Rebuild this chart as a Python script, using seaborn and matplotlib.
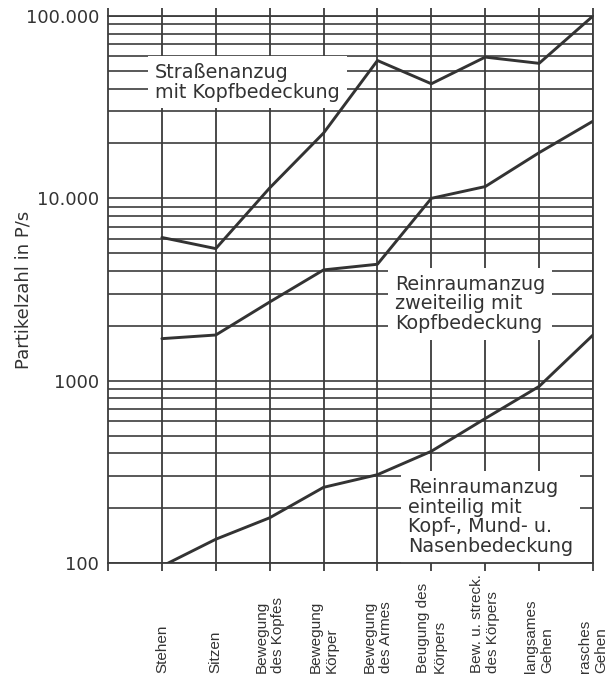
import numpy as np
import pandas as pd
import seaborn as sns
import matplotlib.pyplot as plt
from matplotlib.ticker import LogLocator, NullFormatter

# Daten
categories = ['Stehen', 'Sitzen', 'Bewegung\ndes Kopfes', 'Bewegung\nKörper',
              'Bewegung\ndes Armes', 'Beugung des\nKörpers', 'Bew. u. streck.\ndes Körpers',
              'langsames\nGehen', 'rasches\nGehen']
strassenanzug = [6100, 5300, 11400, 22800, 57000, 42500, 59500, 55000, 100000]
reinraum_zweiteilig = [1700, 1780, 2700, 4050, 4350, 10000, 11600, 17800, 26500]
reinraum_einteilig = [96, 135, 177, 260, 305, 410, 620, 930, 1780]
series_names = ['Straßenanzug', 'Reinraumanzug zweiteilig', 'Reinraumanzug einteilig']
y_ticks = [100, 1000, 10000, 100000]
y_ticklabels = ['100', '1000', '10.000', '100.000']

pos = np.arange(len(categories))
df = pd.DataFrame({
    'pos': np.tile(pos, 3),
    'wert': strassenanzug + reinraum_zweiteilig + reinraum_einteilig,
    'serie': np.repeat(series_names, len(categories)),
})

sns.set_theme(style='white')
plt.rcParams['font.family'] = ['DejaVu Sans']
ink = '#333333'
grid_c = '#3c3c3c'

fig = plt.figure(figsize=(6.14, 6.75), dpi=100)
ax = fig.add_axes([108 / 614, 1 - 563 / 675, 485 / 614, 547 / 675])

sns.lineplot(data=df, x='pos', y='wert', hue='serie',
             palette=[ink, ink, ink], linewidth=2.1, legend=False, ax=ax, zorder=3)

ax.set_yscale('log')
ax.set_ylim(100, 100000)
ax.set_xlim(-1, len(categories) - 1)

ax.set_yticks(y_ticks, labels=y_ticklabels)
ax.yaxis.set_minor_locator(LogLocator(base=10, subs=np.arange(2, 10)))
ax.yaxis.set_minor_formatter(NullFormatter())
ax.tick_params(axis='y', which='both', length=0, pad=6.5, labelsize=13, labelcolor=ink)

ax.set_xticks(pos, labels=categories)
ax.set_xticks([-1], minor=True)
ax.tick_params(axis='x', which='both', length=6, width=1.3, color=grid_c,
               direction='out', top=True, bottom=True, pad=73,
               labelsize=11, labelcolor=ink, labelrotation=90)
for lbl in ax.get_xticklabels():
    lbl.set_va('bottom')
    lbl.set_multialignment('left')
    lbl.set_linespacing(1.2)
    lbl.set_family('Liberation Sans')

ax.set_axisbelow(True)
ax.grid(which='both', axis='y', color=grid_c, linewidth=1.2)
ax.grid(which='major', axis='x', color=grid_c, linewidth=1.3)
for sp in ax.spines.values():
    sp.set_color(grid_c)
    sp.set_linewidth(1.3)

ax.set_xlabel('')
ax.set_ylabel('Partikelzahl in P/s', fontsize=13, color=ink)
ax.yaxis.set_label_coords(-0.155, 0.5)

box = dict(facecolor='white', edgecolor='none', pad=5)
ax.text(0.097, 0.879, 'Straßenanzug\nmit Kopfbedeckung', transform=ax.transAxes,
        ha='left', va='center', fontsize=13.8, color=ink, linespacing=1.05,
        bbox=box, zorder=1.5)
ax.text(0.592, 0.4735, 'Reinraumanzug\nzweiteilig mit\nKopfbedeckung', transform=ax.transAxes,
        ha='left', va='center', fontsize=13.8, color=ink, linespacing=1.05,
        bbox=box, zorder=1.5)
ax.text(0.619, 0.084, 'Reinraumanzug\neinteilig mit\nKopf-, Mund- u.\nNasenbedeckung',
        transform=ax.transAxes, ha='left', va='center', fontsize=13.8, color=ink,
        linespacing=1.05, bbox=box, zorder=1.5)

fig.savefig('out.png', dpi=100, facecolor='white')
